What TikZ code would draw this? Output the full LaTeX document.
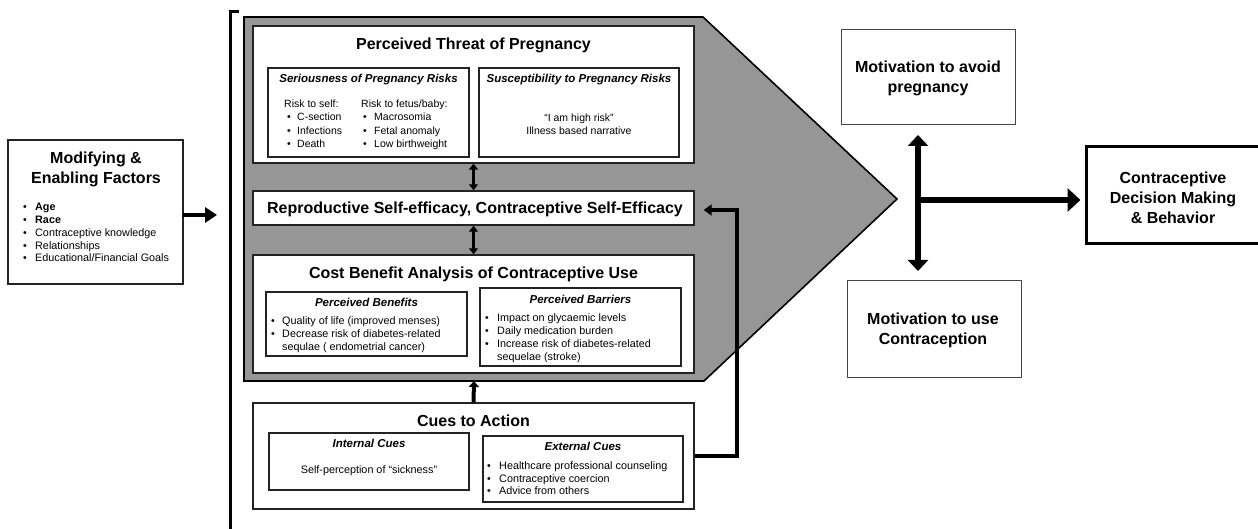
\documentclass[tikz,border=0pt]{standalone}
\usepackage{fontspec}
\setmainfont{Liberation Sans}
\usetikzlibrary{arrows.meta}
\definecolor{shade}{RGB}{150,150,150}
\definecolor{edge}{RGB}{35,35,35}
\begin{document}
\begin{tikzpicture}[x=1pt,y=-1pt,
  box/.style={draw=edge, line width=1.4pt, fill=white, inner sep=0pt},
  sub/.style={draw=edge, line width=1.1pt, fill=white, inner sep=0pt},
  mot/.style={draw=edge!85, line width=1pt, fill=white, inner sep=0pt},
  ttl/.style={font=\fontsize{16}{19.5}\selectfont\bfseries, inner sep=0pt, align=center},
  sttl/.style={font=\fontsize{11.5}{14}\selectfont\bfseries\itshape, inner sep=0pt},
  txt/.style={font=\fontsize{10.8}{13}\selectfont, inner sep=0pt, anchor=base west},
  stxt/.style={font=\fontsize{10.5}{13}\selectfont, inner sep=0pt, anchor=base west},
  ctxt/.style={font=\fontsize{10.8}{13}\selectfont, inner sep=0pt},
  bul/.style={font=\fontsize{10.5}{13}\selectfont, inner sep=0pt, anchor=base},
  arrA/.style={line width=4pt, -{Triangle[width=15pt,length=12pt]}},
  arrM/.style={line width=3pt, {Triangle[width=9pt,length=6pt]}-{Triangle[width=9pt,length=6pt]}},
  arrU/.style={line width=4pt, -{Triangle[width=10pt,length=6pt]}},
  arrF/.style={line width=4pt, -{Triangle[width=11pt,length=8pt]}},
  arrV/.style={line width=6pt, {Triangle[width=20pt,length=11pt]}-{Triangle[width=20pt,length=11pt]}},
  arrH/.style={line width=6pt, -{Triangle[width=23pt,length=13pt]}}
]
\useasboundingbox (0,0) rectangle (1258,529);

% bracket
\draw[line width=3pt] (239,12) -- (230,12) -- (230,529);

% gray pentagon
\draw[fill=shade, line width=1.6pt, draw=black] (244,17) -- (703,17) -- (897,199) -- (704,381) -- (244,381) -- cycle;
\coordinate (graybot) at (474,381);

% left box
\node[box, minimum width=175pt, minimum height=144pt] (left) at (95.5,212) {};
\node[ttl] (lefttitle) at (96,169.5) {Modifying \&\\Enabling Factors};
\foreach \t [count=\i] in {{\bfseries Age},{\bfseries Race},{Contraceptive knowledge},{Relationships},{Educational/Financial Goals}} {
  \node[bul] (lb\i) at (25,{211+12.75*(\i-1)}) {•};
  \node[txt] (lt\i) at (35,{211+12.75*(\i-1)}) {\t};
}

% perceived threat
\node[box, minimum width=441pt, minimum height=137pt] (threat) at (473.5,94.5) {};
\node[ttl] (threattitle) at (473.5,45) {Perceived Threat of Pregnancy};
\node[sub, minimum width=201pt, minimum height=89pt] (serious) at (368.5,112.5) {};
\node[sttl] (serioustitle) at (368.5,80) {Seriousness of Pregnancy Risks};
\node[stxt] (selfh) at (284,108) {Risk to self:};
\node[stxt] (fetush) at (361,108) {Risk to fetus/baby:};
\foreach \t [count=\i] in {{C-section},{Infections},{Death}} {
  \node[bul] (sb\i) at (289,{121+13.5*(\i-1)}) {•};
  \node[stxt] (st\i) at (297,{121+13.5*(\i-1)}) {\t};
}
\foreach \t [count=\i] in {{Macrosomia},{Fetal anomaly},{Low birthweight}} {
  \node[bul] (fb\i) at (365,{121+13.5*(\i-1)}) {•};
  \node[stxt] (ft\i) at (374,{121+13.5*(\i-1)}) {\t};
}
\node[sub, minimum width=200pt, minimum height=89pt] (suscept) at (579,112.5) {};
\node[sttl] (suscepttitle) at (579,80) {Susceptibility to Pregnancy Risks};
\node[ctxt, align=center, font=\fontsize{10.5}{13.3}\selectfont] (susctext) at (579,124) {“I am high risk"\\Illness based narrative};

% reproductive self-efficacy
\node[box, minimum width=441pt, minimum height=34pt] (repro) at (473.5,208) {};
\node[ttl] (reprotext) at (475,209) {Reproductive Self-efficacy, Contraceptive Self-Efficacy};

% cost benefit
\node[box, minimum width=441pt, minimum height=118pt] (cost) at (473.5,314) {};
\node[ttl] (costtitle) at (473.5,274) {Cost Benefit Analysis of Contraceptive Use};
\node[sub, minimum width=201pt, minimum height=64pt] (benef) at (366.5,324) {};
\node[sttl] (beneftitle) at (366.5,302) {Perceived Benefits};
\foreach \t [count=\i] in {{Quality of life (improved menses)},{Decrease risk of diabetes-related}} {
  \node[bul] (bb\i) at (273,{324.7+13*(\i-1)}) {•};
  \node[txt] (bt\i) at (282,{324.7+13*(\i-1)}) {\t};
}
\node[txt] (bt3) at (282,350.7) {sequlae ( endometrial cancer)};
\node[sub, minimum width=201pt, minimum height=78pt] (barr) at (580.5,327) {};
\node[sttl] (barrtitle) at (580.5,299) {Perceived Barriers};
\foreach \t [count=\i] in {{Impact on glycaemic levels},{Daily medication burden},{Increase risk of diabetes-related}} {
  \node[bul] (rb\i) at (487,{321.7+13*(\i-1)}) {•};
  \node[txt] (rt\i) at (497,{321.7+13*(\i-1)}) {\t};
}
\node[txt] (rt4) at (497,360.7) {sequelae (stroke)};

% cues to action
\node[box, minimum width=441pt, minimum height=106pt] (cues) at (473.5,456) {};
\node[ttl] (cuestitle) at (473.5,421) {Cues to Action};
\node[sub, minimum width=200pt, minimum height=57pt] (internal) at (369,461.5) {};
\node[sttl] (internaltitle) at (369,443) {Internal Cues};
\node[ctxt] (internaltext) at (369,471) {Self-perception of “sickness”};
\node[sub, minimum width=200pt, minimum height=66pt] (external) at (583,469) {};
\node[sttl] (externaltitle) at (583,446) {External Cues};
\foreach \t [count=\i] in {{Healthcare professional counseling},{Contraceptive coercion},{Advice from others}} {
  \node[bul] (eb\i) at (489,{469.7+12.6*(\i-1)}) {•};
  \node[txt] (et\i) at (499,{469.7+12.6*(\i-1)}) {\t};
}

% right side boxes
\node[mot, minimum width=174pt, minimum height=95pt] (avoid) at (928,77.5) {};
\node[ttl, font=\fontsize{16}{20}\selectfont\bfseries] (avoidtext) at (928,78.5) {Motivation to avoid\\pregnancy};
\node[mot, minimum width=174pt, minimum height=96pt] (use) at (934,329) {};
\node[ttl, font=\fontsize{16}{20}\selectfont\bfseries] (usetext) at (933,330) {Motivation to use\\Contraception};
\node[draw=black, line width=3pt, fill=white, inner sep=0pt, minimum width=176pt, minimum height=97pt] (decision) at (1174,195.5) {};
\node[ttl, font=\fontsize{16}{20}\selectfont\bfseries] (decisiontext) at (1173,198) {Contraceptive\\Decision Making\\\& Behavior};

% connectors
\coordinate (la) at (183,215);
\coordinate (lt) at (217,215);
\draw[arrA] (la) -- (lt);
\draw[arrM] (threat.south) -- (repro.north);
\draw[arrM] (repro.south) -- (cost.north);
\draw[arrU] (cues.north) -- (graybot);
\draw[arrF] (cues.east) -- (737,456) |- ([xshift=9pt]repro.east |- 0,210);
\coordinate (jt) at (918,135);
\coordinate (jb) at (918,271);
\coordinate (j) at (918,200);
\draw[arrV] (jt) -- (jb);
\draw[arrH] (j) -- ([xshift=-4pt]decision.west |- j);
\end{tikzpicture}
\end{document}
